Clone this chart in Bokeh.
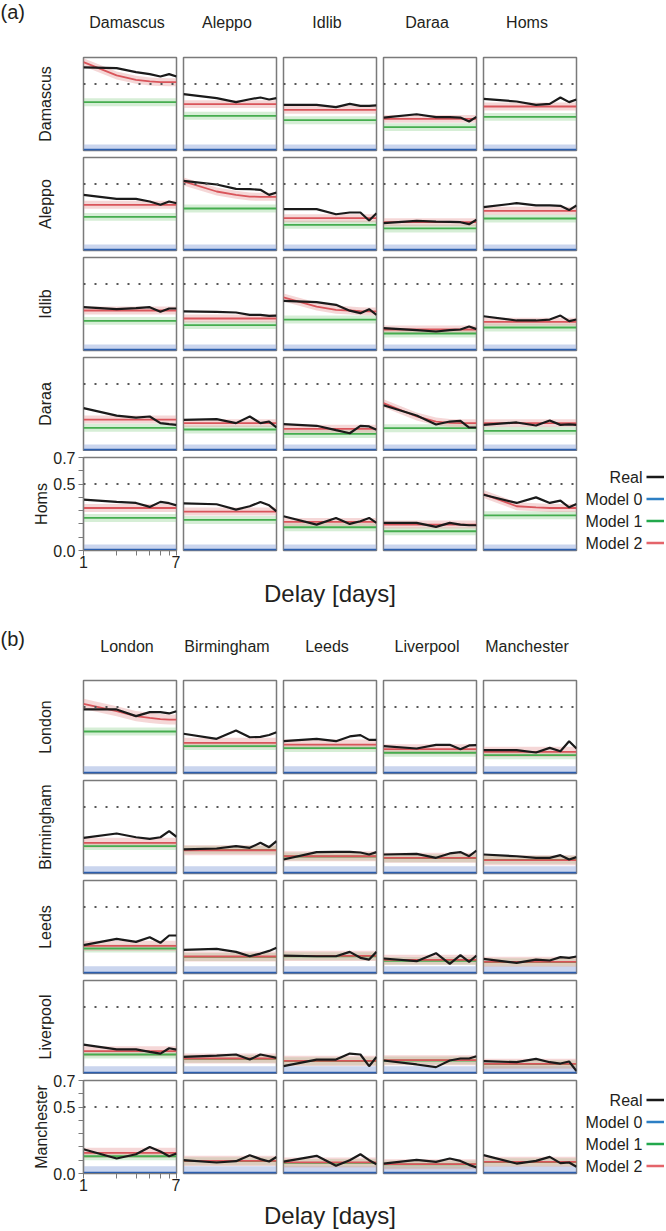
from bokeh.plotting import figure
from bokeh.layouts import column, row
from bokeh.models import (Range1d, LinearAxis, LogAxis, FixedTicker,
                          PrintfTickFormatter, Span, Label)
from bokeh.core.properties import value
from bokeh.embed import file_html
from bokeh.resources import INLINE

# ------------------------------------------------------------------ data
DELAY = [1, 2, 3, 4, 5, 6, 7]

A_CITIES = ["Damascus", "Aleppo", "Idlib", "Daraa", "Homs"]
B_CITIES = ["London", "Birmingham", "Leeds", "Liverpool", "Manchester"]

# Real values, row-major (row city x column city), 7 delays each
A_REAL = [
    [0.625, 0.620, 0.590, 0.575, 0.557, 0.575, 0.557],
    [0.424, 0.394, 0.364, 0.386, 0.399, 0.384, 0.394],
    [0.344, 0.344, 0.326, 0.351, 0.336, 0.336, 0.339],
    [0.248, 0.273, 0.251, 0.251, 0.248, 0.218, 0.253],
    [0.389, 0.369, 0.344, 0.351, 0.399, 0.364, 0.384],
    [0.419, 0.389, 0.389, 0.369, 0.344, 0.369, 0.356],
    [0.524, 0.497, 0.464, 0.462, 0.457, 0.419, 0.437],
    [0.311, 0.311, 0.273, 0.286, 0.286, 0.226, 0.281],
    [0.206, 0.223, 0.218, 0.216, 0.213, 0.198, 0.231],
    [0.326, 0.356, 0.339, 0.339, 0.336, 0.304, 0.339],
    [0.326, 0.311, 0.319, 0.326, 0.291, 0.316, 0.316],
    [0.294, 0.291, 0.286, 0.268, 0.268, 0.261, 0.263],
    [0.374, 0.364, 0.344, 0.300, 0.281, 0.311, 0.268],
    [0.168, 0.153, 0.143, 0.153, 0.158, 0.181, 0.161],
    [0.258, 0.226, 0.226, 0.233, 0.263, 0.221, 0.233],
    [0.319, 0.263, 0.248, 0.256, 0.206, 0.198, 0.193],
    [0.231, 0.236, 0.206, 0.256, 0.206, 0.218, 0.173],
    [0.198, 0.186, 0.153, 0.130, 0.186, 0.181, 0.156],
    [0.341, 0.263, 0.196, 0.218, 0.223, 0.173, 0.173],
    [0.193, 0.211, 0.188, 0.226, 0.193, 0.196, 0.193],
    [0.383, 0.366, 0.358, 0.328, 0.366, 0.356, 0.340],
    [0.355, 0.348, 0.308, 0.333, 0.365, 0.340, 0.295],
    [0.258, 0.195, 0.245, 0.200, 0.220, 0.245, 0.208],
    [0.208, 0.208, 0.178, 0.208, 0.195, 0.190, 0.190],
    [0.420, 0.358, 0.400, 0.358, 0.375, 0.325, 0.350],
]
A_M0 = [0.005] * 25
A_M1 = [0.364, 0.261, 0.228, 0.176, 0.253,
        0.253, 0.316, 0.193, 0.166, 0.241,
        0.223, 0.191, 0.233, 0.128, 0.173,
        0.171, 0.158, 0.125, 0.168, 0.148,
        0.245, 0.230, 0.175, 0.145, 0.265]
A_M2 = [[0.665, 0.565, 0.532, 0.520, 0.515, 0.514, 0.514], 0.349, 0.306, 0.238, 0.331,
        0.344, [0.520, 0.444, 0.419, 0.406, 0.404, 0.404, 0.404], 0.243, 0.213, 0.299,
        0.301, 0.241, [0.399, 0.331, 0.306, 0.301, 0.296, 0.294, 0.294], 0.158, 0.216,
        0.233, 0.206, 0.163, [0.356, 0.256, 0.218, 0.208, 0.206, 0.206, 0.206], 0.206,
        0.320, 0.293, 0.215, 0.195, [0.425, 0.333, 0.325, 0.320, 0.320, 0.320, 0.320]]
A_SPREAD = {"m0": 0.045, "m1": 0.03, "m2": 0.03}

B_REAL = [
    [0.482, 0.482, 0.432, 0.462, 0.462, 0.452, 0.469],
    [0.299, 0.261, 0.324, 0.273, 0.276, 0.290, 0.311],
    [0.243, 0.261, 0.243, 0.279, 0.289, 0.253, 0.253],
    [0.206, 0.188, 0.216, 0.216, 0.183, 0.211, 0.213],
    [0.176, 0.176, 0.158, 0.193, 0.168, 0.243, 0.188],
    [0.268, 0.301, 0.273, 0.261, 0.273, 0.319, 0.276],
    [0.181, 0.188, 0.206, 0.193, 0.231, 0.198, 0.243],
    [0.105, 0.161, 0.163, 0.163, 0.158, 0.143, 0.161],
    [0.143, 0.148, 0.118, 0.151, 0.161, 0.130, 0.173],
    [0.143, 0.130, 0.118, 0.118, 0.138, 0.105, 0.123],
    [0.213, 0.261, 0.238, 0.273, 0.231, 0.286, 0.286],
    [0.178, 0.186, 0.163, 0.130, 0.150, 0.170, 0.193],
    [0.135, 0.130, 0.130, 0.163, 0.118, 0.105, 0.163],
    [0.113, 0.093, 0.153, 0.073, 0.138, 0.088, 0.135],
    [0.110, 0.080, 0.105, 0.098, 0.123, 0.118, 0.128],
    [0.218, 0.181, 0.181, 0.163, 0.150, 0.190, 0.180],
    [0.125, 0.135, 0.143, 0.105, 0.143, 0.130, 0.118],
    [0.055, 0.105, 0.105, 0.150, 0.143, 0.055, 0.125],
    [0.098, 0.068, 0.048, 0.098, 0.113, 0.113, 0.130],
    [0.093, 0.085, 0.110, 0.085, 0.075, 0.090, 0.018],
    [0.183, 0.113, 0.145, 0.200, 0.165, 0.130, 0.150],
    [0.100, 0.083, 0.093, 0.138, 0.108, 0.090, 0.125],
    [0.090, 0.133, 0.058, 0.100, 0.145, 0.100, 0.070],
    [0.075, 0.103, 0.088, 0.113, 0.095, 0.065, 0.045],
    [0.138, 0.075, 0.095, 0.125, 0.078, 0.083, 0.050],
]
B_M0 = [0.005] * 25
B_M1 = [0.316, 0.206, 0.191, 0.156, 0.138,
        0.206, 0.178, 0.128, 0.115, 0.103,
        0.188, 0.125, 0.130, 0.095, 0.085,
        0.143, 0.110, 0.093, 0.098, 0.070,
        0.130, 0.093, 0.080, 0.068, 0.085]
B_M2 = [[0.524, 0.469, 0.432, 0.419, 0.410, 0.406, 0.406], 0.231, 0.218, 0.183, 0.163,
        0.231, 0.175, 0.130, 0.118, 0.100,
        0.208, 0.128, 0.133, 0.103, 0.088,
        0.168, 0.113, 0.095, 0.100, 0.073,
        0.155, 0.095, 0.083, 0.070, 0.088]
B_SPREAD = {"m0": 0.055, "m1": 0.03, "m2": 0.038}

LEGEND_LABELS = ["Real", "Model 0", "Model 1", "Model 2"]
Y_TICKS = [0.0, 0.5, 0.7]
Y_MINOR = [0.1, 0.2, 0.3, 0.4, 0.6]
X_TICKS = [1, 7]
X_MINOR = [2, 3, 4, 5, 6]
REF_LEVEL = 0.5

# ------------------------------------------------------------------ style
FONT = "Liberation Sans"
TXT = "#231f20"
GREY = "#7a7a7a"
C_REAL = "#1a1a1a"
C_M0, C_M0_BAND = "#2c5fae", "#9fb2e0"
C_M1, C_M1_BAND = "#45ad4f", "#86cc86"
C_M2, C_M2_BAND = "#d9555b", "#e59a9a"
LEG_COLORS = [C_REAL, "#2d7fc4", "#22a84c", "#e4646a"]
FW, FH = 93, 93
LEFT0 = 83          # left border of first column (page starts at x=0)
LEG_W = 84
B4_TOP, B4_BOT = 6, 25


def as_series(v):
    return list(v) if isinstance(v, list) else [v] * len(DELAY)


def band(vals, h):
    lo = [max(0.0, v - h) for v in vals]
    hi = [v + h for v in vals]
    return lo, hi


def make_panel(i, j, real, m0, m1, m2, spread, row_name):
    bl = LEFT0 if j == 0 else 3
    br = 4
    bt = B4_TOP if i == 4 else 3
    bb = B4_BOT if i == 4 else (1 if i == 3 else 4)
    p = figure(width=bl + FW + br, height=bt + FH + bb,
               x_axis_type="log", x_range=Range1d(1, 7), y_range=Range1d(0, 0.7),
               x_axis_location=None, y_axis_location=None,
               toolbar_location=None, output_backend="svg",
               min_border_left=bl, min_border_right=br,
               min_border_top=bt, min_border_bottom=bb,
               outline_line_color=GREY, outline_line_width=1.5,
               background_fill_color="white", border_fill_color="white")
    p.grid.visible = False

    s0 = as_series(m0)
    s1 = as_series(m1)
    s2 = as_series(m2)
    lo0 = [0.0] * len(DELAY)
    hi0 = [spread["m0"]] * len(DELAY)
    lo1, hi1 = band(s1, spread["m1"])
    lo2, hi2 = band(s2, spread["m2"])

    p.varea(x=DELAY, y1=lo0, y2=hi0, fill_color=C_M0_BAND, fill_alpha=0.55)
    p.varea(x=DELAY, y1=lo1, y2=hi1, fill_color=C_M1_BAND, fill_alpha=0.34)
    p.varea(x=DELAY, y1=lo2, y2=hi2, fill_color=C_M2_BAND, fill_alpha=0.4)
    p.add_layout(Span(location=REF_LEVEL, dimension="width", line_color="#555555",
                      line_width=2, line_dash="2 9"))
    p.line(DELAY, s0, line_color=C_M0, line_width=2)
    p.line(DELAY, s1, line_color=C_M1, line_width=1.8)
    p.line(DELAY, s2, line_color=C_M2, line_width=1.8)
    p.line(DELAY, real, line_color=C_REAL, line_width=2.2)

    if j == 0:
        common = dict(axis_label=row_name, axis_label_text_font=FONT,
                      axis_label_text_font_size="16px",
                      axis_label_text_font_style="normal",
                      axis_label_text_color=TXT,
                      major_label_text_font=FONT, major_label_text_font_size="16px",
                      major_label_text_color=TXT)
        if i == 4:
            ya = LinearAxis(ticker=FixedTicker(ticks=Y_TICKS, minor_ticks=Y_MINOR),
                            formatter=PrintfTickFormatter(format="%.1f"),
                            major_tick_out=5, major_tick_in=0,
                            minor_tick_out=5, minor_tick_in=0,
                            axis_line_color=GREY, major_tick_line_color=GREY,
                            minor_tick_line_color=GREY, axis_line_width=1.2,
                            major_label_standoff=3, axis_label_standoff=0, **common)
            p.add_layout(ya, "left")
            xa = LogAxis(ticker=FixedTicker(ticks=X_TICKS, minor_ticks=X_MINOR),
                         formatter=PrintfTickFormatter(format="%d"),
                         major_tick_out=5, major_tick_in=0,
                         minor_tick_out=5, minor_tick_in=0,
                         axis_line_color=GREY, major_tick_line_color=GREY,
                         minor_tick_line_color=GREY, axis_line_width=1.2,
                         major_label_standoff=0,
                         major_label_text_font=FONT, major_label_text_font_size="16px",
                         major_label_text_color=TXT)
            p.add_layout(xa, "below")
        else:
            ya = LinearAxis(ticker=FixedTicker(ticks=[], minor_ticks=[]),
                            major_tick_out=0, major_tick_in=0,
                            minor_tick_out=0, minor_tick_in=0,
                            axis_line_color=None, major_tick_line_color=None,
                            minor_tick_line_color=None,
                            major_label_standoff=0, axis_label_standoff=30, **common)
            p.add_layout(ya, "left")
    return p


def text_fig(w, h, **kw):
    f = figure(width=w, height=h, x_range=Range1d(0, w), y_range=Range1d(h, 0),
               x_axis_location=None, y_axis_location=None, toolbar_location=None,
               output_backend="svg", outline_line_color=None,
               background_fill_color="white", border_fill_color="white", **kw)
    f.grid.visible = False
    return f


def make_legend():
    # frame aligned with the panel frames of the bottom row
    f = figure(width=LEG_W, height=B4_TOP + FH + B4_BOT,
               x_range=Range1d(0, LEG_W), y_range=Range1d(FH, 0),
               x_axis_location=None, y_axis_location=None, toolbar_location=None,
               output_backend="svg", outline_line_color=None,
               min_border_left=0, min_border_right=0,
               min_border_top=B4_TOP, min_border_bottom=B4_BOT,
               background_fill_color="white", border_fill_color="white")
    f.grid.visible = False
    ys = [19.5 + 22 * k for k in range(len(LEGEND_LABELS))]
    for lab, yv in zip(LEGEND_LABELS, ys):
        f.add_layout(Label(x=62, y=yv, text=lab, text_font=FONT,
                           text_font_size="16px", text_color=TXT, text_align="right",
                           text_baseline="middle"))
    f.segment(x0=[66] * len(ys), y0=ys, x1=[LEG_W] * len(ys), y1=ys,
              line_color=LEG_COLORS, line_width=2.5)
    return f


def section(tag, cities, real, m0, m1, m2, spread, header_h, title_y, tag_y,
            footer_h, delay_y):
    header = text_fig(LEFT0 + 500 + LEG_W - 3, header_h, min_border=0)
    header.text(x=[LEFT0 + 43.5 + 100 * j for j in range(5)], y=[title_y] * 5, text=cities,
                text_font=value(FONT), text_font_size="16px", text_color=TXT,
                text_align="center", text_baseline="middle")
    header.text(x=[0], y=[tag_y], text=[tag], text_font=value(FONT), text_font_size="20px",
                text_color=TXT, text_align="left", text_baseline="top")
    rows = []
    for i in range(5):
        figs = []
        for j in range(5):
            k = i * 5 + j
            figs.append(make_panel(i, j, real[k], m0[k], m1[k], m2[k], spread, cities[i]))
        if i == 4:
            figs.append(make_legend())
        rows.append(row(*figs))
    footer = text_fig(LEFT0 + 500 + LEG_W - 3, footer_h, min_border=0)
    footer.text(x=[LEFT0 + 246.5], y=[delay_y], text=["Delay [days]"], text_font=value(FONT),
                text_font_size="24px", text_color=TXT, text_align="center",
                text_baseline="middle")
    return [header] + rows + [footer]


sec_a = section("(a)", A_CITIES, A_REAL, A_M0, A_M1, A_M2, A_SPREAD,
                header_h=54, title_y=22, tag_y=0, footer_h=50, delay_y=18)
sec_b = section("(b)", B_CITIES, B_REAL, B_M0, B_M1, B_M2, B_SPREAD,
                header_h=52, title_y=20.5, tag_y=2, footer_h=32, delay_y=17)

p = column(*sec_a, *sec_b)

open("out.html", "w").write(file_html(p, INLINE))
